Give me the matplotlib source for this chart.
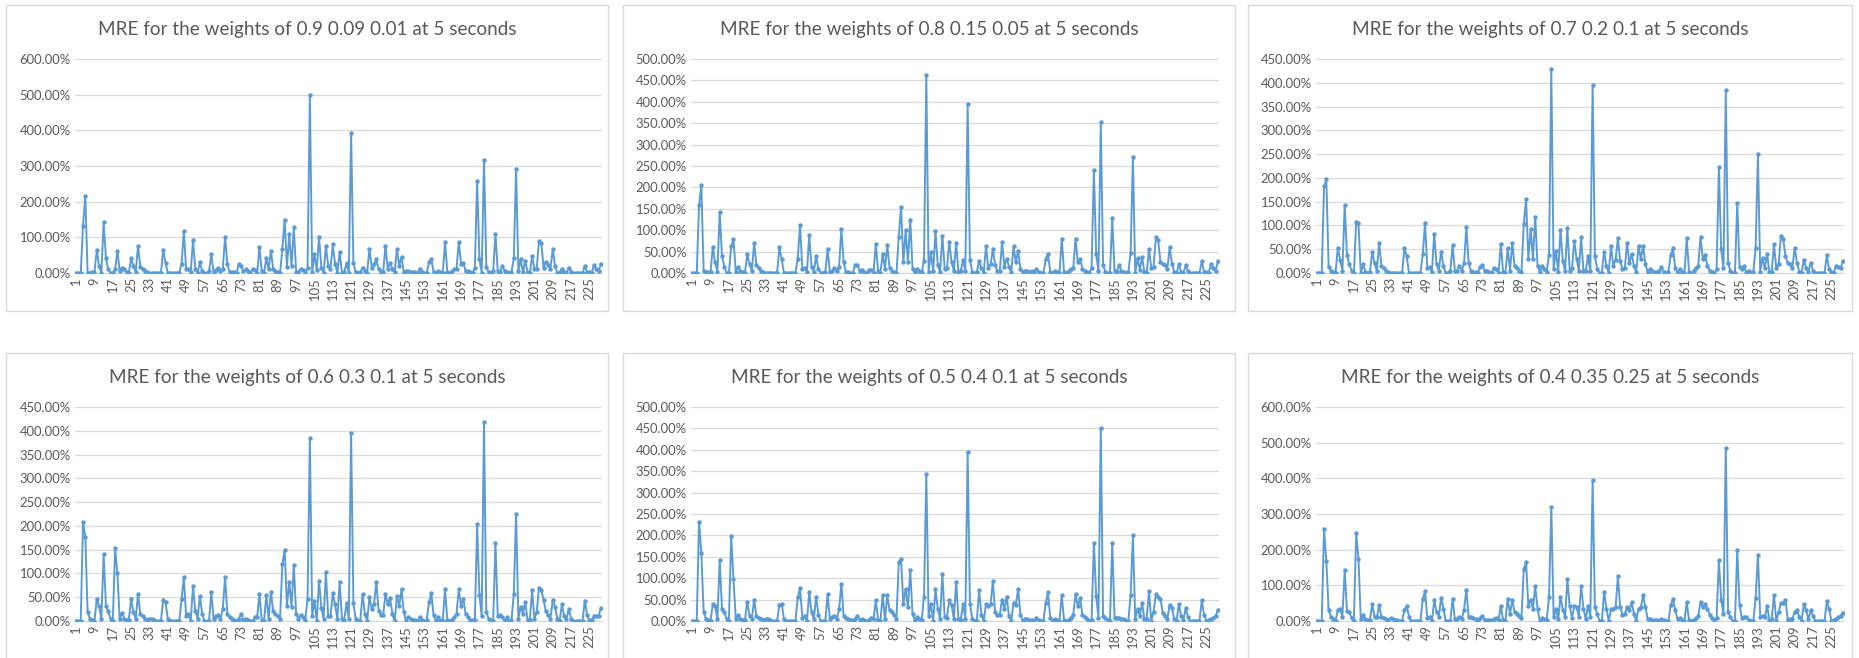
import matplotlib
matplotlib.use("Agg")
import matplotlib.pyplot as plt
from matplotlib.patches import Rectangle
from matplotlib.ticker import FuncFormatter, MultipleLocator

titles = [
    "MRE for the weights of 0.9 0.09 0.01 at 5 seconds",
    "MRE for the weights of 0.8 0.15 0.05 at 5 seconds",
    "MRE for the weights of 0.7 0.2 0.1 at 5 seconds",
    "MRE for the weights of 0.6 0.3 0.1 at 5 seconds",
    "MRE for the weights of 0.5 0.4 0.1 at 5 seconds",
    "MRE for the weights of 0.4 0.35 0.25 at 5 seconds",
]
y_max = [600, 500, 450, 450, 500, 600]
y_step = [100, 50, 50, 50, 50, 100]

mre_090_009_001 = [
    0, 0, 0, 133, 215, 0, 0, 2, 2, 65,
    20, 0, 143, 42, 10, 0, 0, 10, 62, 5,
    14, 10, 3, 0, 42, 20, 2, 77, 18, 12,
    5, 2, 0, 0, 0, 0, 0, 0, 65, 28,
    0, 0, 0, 0, 0, 0, 26, 118, 10, 12,
    2, 92, 12, 0, 30, 5, 0, 0, 5, 52,
    2, 8, 15, 5, 10, 102, 25, 2, 2, 2,
    0, 25, 20, 5, 10, 5, 0, 10, 8, 0,
    73, 5, 0, 42, 10, 63, 10, 5, 2, 0,
    68, 150, 18, 108, 20, 128, 3, 2, 12, 8,
    3, 15, 500, 2, 52, 8, 102, 15, 0, 77,
    20, 12, 80, 25, 0, 60, 0, 2, 28, 0,
    393, 28, 2, 0, 2, 15, 5, 0, 68, 15,
    25, 38, 12, 2, 3, 76, 12, 28, 12, 2,
    68, 20, 45, 2, 5, 5, 2, 3, 2, 0,
    12, 3, 0, 0, 30, 40, 2, 0, 5, 3,
    0, 87, 3, 0, 5, 10, 12, 88, 25, 28,
    5, 5, 3, 0, 15, 258, 40, 0, 318, 18,
    2, 0, 5, 110, 5, 3, 20, 5, 2, 0,
    2, 42, 292, 5, 38, 2, 35, 2, 0, 48,
    12, 12, 90, 85, 15, 32, 22, 12, 67, 20,
    0, 2, 12, 2, 0, 15, 2, 0, 0, 0,
    0, 0, 20, 2, 2, 0, 22, 12, 5, 25,
]
mre_080_015_005 = [
    0, 0, 0, 158, 205, 5, 2, 2, 2, 60,
    25, 3, 142, 40, 15, 0, 0, 62, 80, 3,
    15, 5, 3, 0, 44, 20, 5, 70, 18, 12,
    5, 2, 0, 0, 0, 0, 0, 0, 60, 32,
    0, 0, 0, 0, 0, 0, 33, 112, 10, 12,
    2, 88, 15, 2, 40, 10, 0, 0, 2, 55,
    2, 5, 12, 5, 15, 102, 25, 2, 2, 0,
    0, 18, 18, 5, 8, 2, 0, 8, 8, 0,
    68, 5, 0, 45, 10, 65, 12, 5, 2, 0,
    85, 155, 25, 100, 25, 125, 10, 2, 10, 5,
    2, 28, 462, 2, 48, 5, 98, 18, 2, 87,
    10, 12, 73, 25, 5, 70, 3, 5, 30, 5,
    395, 30, 3, 0, 2, 28, 12, 0, 62, 12,
    20, 55, 18, 5, 5, 72, 15, 33, 15, 2,
    62, 25, 52, 10, 2, 5, 5, 3, 5, 2,
    10, 3, 0, 0, 32, 45, 3, 0, 5, 3,
    0, 80, 3, 0, 5, 10, 12, 80, 25, 33,
    10, 5, 3, 0, 12, 240, 45, 5, 352, 18,
    3, 0, 0, 128, 5, 3, 18, 5, 3, 0,
    2, 47, 270, 0, 35, 8, 37, 2, 0, 55,
    12, 15, 83, 77, 25, 22, 18, 10, 60, 22,
    3, 0, 20, 2, 0, 18, 5, 0, 0, 0,
    0, 0, 28, 2, 2, 0, 20, 12, 5, 27,
]
mre_070_020_010 = [
    0, 0, 0, 182, 197, 12, 5, 2, 0, 52,
    28, 5, 142, 38, 18, 5, 0, 107, 105, 0,
    18, 3, 0, 3, 45, 20, 5, 63, 15, 10,
    5, 2, 0, 0, 0, 0, 0, 0, 52, 36,
    0, 0, 0, 0, 0, 0, 40, 105, 10, 12,
    2, 82, 18, 5, 45, 15, 0, 0, 5, 58,
    5, 5, 15, 5, 20, 97, 20, 5, 2, 2,
    0, 12, 17, 5, 5, 2, 0, 10, 8, 0,
    62, 2, 0, 52, 5, 63, 15, 10, 5, 2,
    102, 156, 30, 92, 30, 118, 15, 2, 15, 8,
    2, 38, 428, 8, 47, 3, 90, 25, 5, 95,
    5, 10, 67, 30, 5, 75, 5, 5, 35, 5,
    395, 35, 8, 0, 0, 45, 15, 0, 57, 15,
    28, 73, 25, 8, 10, 63, 20, 40, 15, 2,
    57, 30, 57, 18, 2, 8, 5, 2, 2, 5,
    12, 3, 0, 2, 38, 52, 10, 0, 8, 3,
    0, 73, 2, 0, 5, 10, 15, 75, 30, 38,
    15, 5, 2, 0, 8, 222, 50, 10, 385, 20,
    5, 0, 0, 147, 12, 8, 15, 0, 5, 0,
    2, 52, 250, 3, 32, 10, 40, 2, 3, 60,
    10, 18, 77, 72, 35, 20, 18, 10, 53, 22,
    3, 0, 28, 10, 3, 22, 5, 0, 0, 0,
    0, 0, 37, 8, 2, 0, 15, 12, 10, 25,
]
mre_060_030_010 = [
    0, 0, 0, 208, 177, 18, 5, 2, 0, 47,
    32, 5, 140, 32, 20, 5, 0, 153, 100, 5,
    17, 5, 3, 3, 47, 18, 5, 57, 15, 10,
    5, 3, 5, 5, 2, 0, 0, 0, 45, 40,
    5, 0, 0, 0, 0, 0, 47, 92, 10, 15,
    0, 73, 22, 5, 53, 15, 0, 0, 0, 60,
    5, 10, 12, 5, 25, 92, 15, 8, 5, 2,
    0, 5, 15, 3, 5, 2, 0, 0, 8, 8,
    56, 2, 0, 55, 5, 62, 20, 15, 10, 5,
    120, 150, 32, 82, 30, 118, 15, 5, 12, 8,
    3, 47, 385, 10, 43, 0, 85, 28, 5, 102,
    10, 10, 58, 35, 5, 83, 5, 3, 37, 5,
    395, 38, 5, 0, 0, 57, 15, 0, 50, 25,
    35, 82, 22, 12, 12, 57, 35, 48, 15, 0,
    52, 32, 67, 18, 0, 8, 5, 3, 2, 0,
    8, 2, 0, 2, 40, 58, 12, 0, 8, 3,
    0, 68, 2, 0, 3, 8, 15, 67, 32, 47,
    15, 8, 3, 2, 3, 203, 55, 10, 418, 18,
    5, 2, 0, 165, 10, 12, 8, 0, 8, 0,
    2, 57, 226, 5, 30, 15, 40, 2, 3, 65,
    5, 18, 70, 65, 45, 20, 12, 5, 45, 30,
    5, 0, 35, 10, 5, 25, 5, 0, 0, 0,
    0, 0, 43, 12, 2, 3, 10, 10, 10, 27,
]
mre_050_040_010 = [
    0, 0, 0, 232, 158, 22, 5, 3, 0, 40,
    35, 5, 142, 28, 22, 5, 0, 198, 97, 5,
    15, 5, 3, 3, 45, 12, 5, 50, 12, 8,
    5, 3, 5, 5, 3, 0, 0, 0, 38, 40,
    5, 0, 0, 0, 0, 0, 55, 77, 8, 12,
    0, 67, 20, 5, 57, 15, 0, 0, 0, 62,
    5, 10, 12, 5, 27, 87, 12, 8, 5, 2,
    0, 5, 12, 3, 5, 2, 0, 3, 8, 5,
    48, 3, 0, 60, 5, 60, 25, 22, 15, 5,
    137, 145, 40, 75, 32, 118, 17, 2, 10, 5,
    3, 57, 343, 12, 40, 0, 75, 28, 5, 110,
    10, 8, 48, 38, 5, 92, 5, 3, 40, 5,
    395, 40, 5, 0, 0, 72, 15, 0, 40, 35,
    40, 93, 20, 15, 15, 50, 28, 57, 12, 0,
    42, 38, 75, 15, 0, 5, 5, 2, 2, 0,
    8, 2, 0, 0, 42, 67, 8, 0, 5, 3,
    0, 60, 2, 0, 3, 8, 15, 62, 35, 53,
    15, 10, 5, 0, 3, 183, 58, 8, 450, 12,
    8, 3, 0, 183, 8, 8, 8, 5, 5, 0,
    0, 60, 200, 5, 28, 12, 42, 5, 5, 70,
    0, 22, 62, 57, 52, 18, 12, 5, 38, 30,
    5, 0, 40, 12, 3, 30, 10, 0, 0, 0,
    0, 0, 48, 15, 0, 3, 5, 8, 12, 25,
]
mre_040_035_025 = [
    0, 0, 0, 258, 168, 30, 12, 5, 0, 32,
    35, 12, 143, 28, 25, 8, 0, 246, 175, 5,
    18, 5, 3, 3, 47, 12, 10, 45, 10, 8,
    5, 3, 8, 5, 3, 2, 0, 0, 30, 43,
    12, 0, 0, 0, 0, 0, 62, 83, 8, 12,
    0, 58, 25, 12, 65, 35, 0, 0, 0, 63,
    5, 5, 10, 5, 32, 88, 10, 10, 8, 5,
    0, 8, 13, 3, 2, 3, 3, 5, 8, 3,
    42, 2, 0, 63, 20, 58, 25, 20, 15, 8,
    145, 165, 42, 60, 35, 97, 35, 0, 8, 5,
    3, 67, 320, 12, 33, 5, 67, 32, 12, 117,
    42, 8, 42, 40, 12, 98, 35, 5, 43, 12,
    395, 38, 20, 0, 0, 82, 35, 0, 33, 35,
    38, 125, 40, 18, 20, 38, 30, 52, 20, 0,
    35, 38, 72, 38, 5, 5, 3, 2, 2, 0,
    5, 2, 0, 0, 45, 62, 30, 5, 8, 3,
    0, 53, 2, 0, 3, 8, 15, 53, 38, 48,
    35, 18, 8, 2, 8, 170, 60, 20, 485, 25,
    12, 0, 0, 200, 45, 8, 10, 12, 3, 0,
    0, 65, 185, 12, 15, 10, 42, 3, 5, 73,
    0, 25, 50, 50, 60, 3, 5, 5, 25, 32,
    10, 0, 47, 30, 5, 30, 15, 0, 0, 0,
    0, 0, 55, 35, 0, 3, 5, 10, 15, 23,
]
series = [mre_090_009_001, mre_080_015_005, mre_070_020_010,
          mre_060_030_010, mre_050_040_010, mre_040_035_025]
categories = list(range(1, len(mre_090_009_001) + 1))
tick_labels = list(range(1, len(categories) + 1, 8))

W, H = 1859, 658
fig = plt.figure(figsize=(W / 100, H / 100), dpi=100)
FONT = "Lato"
GRAY = "#595959"
GRID = "#D9D9D9"
LINE = "#5B9BD5"

# panel geometry in pixels
col_plot = [(75, 602), (691, 1219), (1316, 1844)]
col_box = [(6, 608), (623, 1235), (1248, 1852)]
row_plot = [(59, 273), (407, 621)]
row_box = [(5, 311), (353, 700)]
row_title = [30, 377]

for i, (vals, title) in enumerate(zip(series, titles)):
    r, c = divmod(i, 3)
    x0, x1 = col_plot[c]
    y0, y1 = row_plot[r]
    ax = fig.add_axes([x0 / W, 1 - y1 / H, (x1 - x0) / W, (y1 - y0) / H])
    bx0, bx1 = col_box[c]
    by0, by1 = row_box[r]
    fig.patches.append(Rectangle((bx0 / W, 1 - by1 / H), (bx1 - bx0) / W, (by1 - by0) / H,
                                 transform=fig.transFigure, fill=False,
                                 edgecolor=GRID, linewidth=1.0, zorder=0))
    fig.text((bx0 + bx1) / 2 / W, 1 - row_title[r] / H, title,
             ha="center", va="center", fontsize=13.6, color=GRAY, family=FONT)

    ax.plot(categories, vals, color=LINE, linewidth=1.4, marker="o",
            markersize=3.2, markeredgewidth=0, zorder=3)
    ax.set_xlim(0.5, len(categories) + 0.5)
    ax.set_ylim(0, y_max[i])
    ax.yaxis.set_major_locator(MultipleLocator(y_step[i]))
    ax.yaxis.set_major_formatter(FuncFormatter(lambda v, p: f"{v:.2f}%"))
    ax.set_xticks(tick_labels)
    ax.set_xticklabels([str(t) for t in tick_labels], rotation=90)
    ax.grid(axis="y", color=GRID, linewidth=0.9, zorder=0)
    ax.set_axisbelow(True)
    for s in ["top", "right", "left"]:
        ax.spines[s].set_visible(False)
    ax.spines["bottom"].set_color(GRID)
    ax.spines["bottom"].set_linewidth(0.9)
    ax.tick_params(axis="both", length=0, colors=GRAY, labelsize=9.4, pad=3)
    for lab in ax.get_xticklabels() + ax.get_yticklabels():
        lab.set_family(FONT)
    ax.set_facecolor("none")

fig.savefig("out.png", dpi=100, facecolor="white")
